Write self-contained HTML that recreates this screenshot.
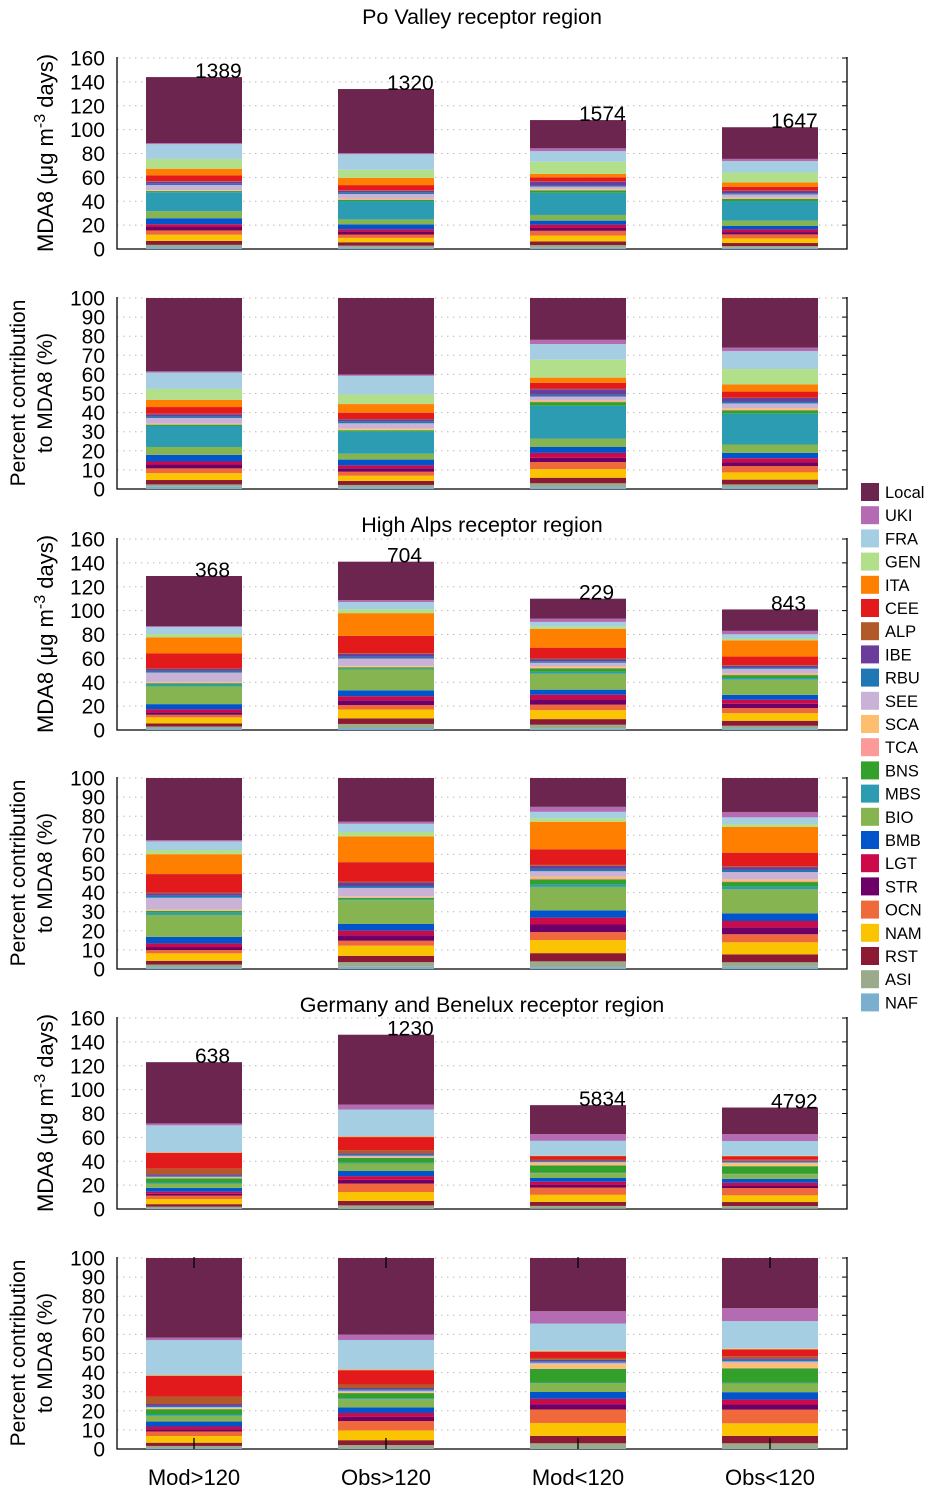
<!DOCTYPE html>
<html><head><meta charset="utf-8">
<style>
html,body{margin:0;padding:0;background:#fff;}
svg{display:block;font-family:"Liberation Sans",Arial,sans-serif;}
</style></head>
<body>
<svg id="chart" width="934" height="1494" viewBox="0 0 934 1494" xmlns="http://www.w3.org/2000/svg"></svg>
<script>
// categories bottom -> top
const cats = ["NAF","ASI","RST","NAM","OCN","STR","LGT","BMB","BIO","MBS","BNS","TCA","SCA","SEE","RBU","IBE","ALP","CEE","ITA","GEN","FRA","UKI","Local"];
const colors = ["#7aafd0","#9aaa8a","#8b1a32","#fbc400","#f0693a","#6c0066","#cc0a4a","#0055cc","#86b450","#2b9cb2","#33a02c","#fb9a99","#fdbf6f","#cab2d6","#1f78b4","#6a3d9a","#b15928","#e31a1c","#ff7f00","#b2df8a","#a6cee3","#b46bb2","#6b254e"];
const legendOrder = ["Local","UKI","FRA","GEN","ITA","CEE","ALP","IBE","RBU","SEE","SCA","TCA","BNS","MBS","BIO","BMB","LGT","STR","OCN","NAM","RST","ASI","NAF"];
const barLabels = ["Mod>120","Obs>120","Mod<120","Obs<120"];
const regionTitles = ["Po Valley receptor region","High Alps receptor region","Germany and Benelux receptor region"];
const absTicks = [0,20,40,60,80,100,120,140,160];
const pctTicks = [0,10,20,30,40,50,60,70,80,90,100];

// Bar totals (MDA8 µg m-3 days) per region
const poTotals = [144,134,108,102];
const alpsTotals = [129,141,110,101];
const gerTotals = [123,146,87,85];
// Counts printed above bars
const poCounts = [1389,1320,1574,1647];
const alpsCounts = [368,704,229,843];
const gerCounts = [638,1230,5834,4792];

// Percent contributions (bottom->top, matching cats)
const poPct = [
 [1.2,1.2,2.3,3.6,2.5,2.0,1.6,3.5,4.1,11.0,0.7,0.2,0.3,3.0,0.8,1.2,0.2,3.5,3.8,5.7,8.6,0.6,38.4],
 [1.0,1.1,2.1,2.7,2.1,1.8,1.5,3.0,3.1,11.4,0.8,0.2,0.6,2.8,1.0,1.0,0.2,3.3,4.5,5.0,9.7,0.7,39.8],
 [1.0,2.0,2.9,4.5,3.7,2.2,2.6,3.1,4.4,17.2,1.9,0.3,0.6,2.0,0.9,2.9,0.2,3.2,2.7,9.4,8.2,2.2,21.9],
 [1.0,1.4,2.5,3.8,3.3,1.9,2.2,2.8,4.4,16.1,1.7,0.3,0.8,2.6,1.0,1.9,0.2,3.1,3.7,8.1,9.4,1.8,26.0]
];
const alpsPct = [
 [1.0,1.3,2.0,3.9,1.7,1.6,1.9,3.4,11.5,1.2,0.9,0.3,0.4,6.2,1.1,1.2,0.4,9.7,10.4,2.2,4.5,0.7,32.5],
 [1.2,2.4,3.3,5.3,2.6,2.9,2.4,3.5,12.4,0.5,0.8,0.3,0.5,4.4,1.0,1.8,0.5,10.2,13.5,2.3,4.3,1.1,22.9],
 [1.0,3.0,4.3,6.8,4.2,4.0,3.6,3.8,12.3,1.3,2.6,0.5,1.0,2.8,1.2,1.6,0.5,8.2,14.4,1.9,3.3,2.6,15.1],
 [1.2,2.3,4.1,6.3,4.2,3.6,3.3,4.0,12.5,1.4,2.4,0.5,0.9,3.8,1.1,1.5,0.5,7.0,13.4,1.5,3.5,2.8,17.7]
];
const gerPct = [
 [0.5,1.1,1.7,3.5,2.4,1.2,1.4,2.6,3.0,0.7,2.8,0.2,0.4,0.5,0.6,1.0,3.9,10.8,0.3,0.1,18.4,1.3,41.8],
 [0.3,1.8,2.6,5.2,5.0,2.2,2.1,3.0,4.3,0.5,2.8,0.2,0.4,0.7,0.7,0.7,1.9,7.6,0.3,0.1,15.7,2.9,40.8],
 [0.3,2.7,3.9,6.8,7.1,2.8,2.8,3.6,4.7,0.3,7.2,0.3,2.1,0.8,0.8,0.7,1.0,3.3,0.3,0.2,14.3,6.5,28.0],
 [0.3,2.7,3.9,6.6,7.2,2.7,2.6,3.9,4.6,0.3,7.6,0.3,2.6,0.8,0.8,0.8,1.1,3.5,0.3,0.2,14.5,6.8,26.4]
];

const regions = [
 {key:"po", totals:poTotals, counts:poCounts, pct:poPct},
 {key:"alps", totals:alpsTotals, counts:alpsCounts, pct:alpsPct},
 {key:"ger", totals:gerTotals, counts:gerCounts, pct:gerPct}
];

const NS = "http://www.w3.org/2000/svg";
const svg = document.getElementById("chart");
function mk(tag, attrs, parent){
  const e = document.createElementNS(NS, tag);
  for (const k in attrs) e.setAttribute(k, attrs[k]);
  (parent||svg).appendChild(e);
  return e;
}
const plotL = 117, plotR = 847, plotH = 191;
const barW = 96;
function xCenter(i){ return 194 + 192*i; }
function yScale(v, y0, max){ return y0 - v/max*plotH; }

function drawPanel(y0, max, ticks, name){
  const g = mk("g", {});
  
  
  ticks.forEach(t=>{
    const y = yScale(t, y0, max);
    if (t>0){
      const gl = mk("line",{x1:plotL,x2:plotR,y1:y,y2:y,stroke:"#bbb","stroke-width":1,"stroke-dasharray":"1.5,4.5"},g);
      
      
      const rt = mk("line",{x1:plotR-5,x2:plotR,y1:y,y2:y,stroke:"#000","stroke-width":1},g);
      
      
    }
    const tl = mk("text",{x:105,y:y+7.5,"text-anchor":"end","font-size":21,fill:"#000"},g);
    tl.textContent = t;
    
    
  });
  const ax = mk("path",{d:`M${plotL},${y0-plotH-1} V${y0} H${plotR} V${y0-plotH-1}`,fill:"none",stroke:"#000","stroke-width":1.3},g);
  
  
  return g;
}

function drawBars(g, y0, max, vals, i){
  let cum = 0;
  vals.forEach((v,k)=>{
    const yTop = yScale(cum+v, y0, max), yBot = yScale(cum, y0, max);
    const r = mk("rect",{x:xCenter(i)-barW/2,y:yTop,width:barW,height:Math.max(0,yBot-yTop),fill:colors[k]},g);
    
    
    cum += v;
  });
  return cum;
}

const absY0 = [249,730,1209];
const pctY0 = [489,969,1449];
const titleY = [24,532,1012];

regions.forEach((reg, ri)=>{
  const t = mk("text",{x:482,y:titleY[ri],"text-anchor":"middle","font-size":21.5,fill:"#000"});
  t.textContent = regionTitles[ri];
  
  

  const ga = drawPanel(absY0[ri], 160, absTicks, reg.key+'-mda8-panel');
  reg.pct.forEach((p, i)=>{
    const s = p.reduce((a,b)=>a+b,0);
    const absVals = p.map(v=>v/s*reg.totals[i]);
    const top = drawBars(ga, absY0[ri], 160, absVals, i);
    const lbl = mk("text",{x:xCenter(i)+1,y:yScale(top,absY0[ri],160)+1,"font-size":21,fill:"#000"},ga);
    lbl.textContent = reg.counts[i];
    
    
  });
  const at = mk("text",{transform:`translate(53,${absY0[ri]-96}) rotate(-90)`,"text-anchor":"middle","font-size":22,fill:"#000"});
  at.innerHTML = 'MDA8 (μg m<tspan dy="-8" font-size="16">-3</tspan><tspan dy="8"> days)</tspan>';
  
  

  const gp = drawPanel(pctY0[ri], 100, pctTicks, reg.key+'-percent-panel');
  reg.pct.forEach((p, i)=>{
    const s = p.reduce((a,b)=>a+b,0);
    drawBars(gp, pctY0[ri], 100, p.map(v=>v/s*100), i);
  });
  const pt = mk("text",{transform:`translate(25,${pctY0[ri]-96}) rotate(-90)`,"text-anchor":"middle","font-size":21,fill:"#000"});
  pt.textContent = "Percent contribution";
  
  
  const pt2 = mk("text",{transform:`translate(52,${pctY0[ri]-96}) rotate(-90)`,"text-anchor":"middle","font-size":21,fill:"#000"});
  pt2.textContent = "to MDA8 (%)";
  
  
});

barLabels.forEach((b,i)=>{
  const x = xCenter(i);
  const t1 = mk("line",{x1:x,x2:x,y1:1257,y2:1268,stroke:"#000","stroke-width":1.3});
  
  
  const t2 = mk("line",{x1:x,x2:x,y1:1438,y2:1449,stroke:"#000","stroke-width":1.3});
  
  
  const l = mk("text",{x:x,y:1485,"text-anchor":"middle","font-size":22,fill:"#000"});
  l.textContent = b;
  
  
});

const lg = mk("g",{});


legendOrder.forEach((c,j)=>{
  const k = cats.indexOf(c);
  const y = 492 + j*23.2;
  const e = mk("g",{},lg);
  
  
  mk("rect",{x:861,y:y-9,width:18,height:18,fill:colors[k]},e);
  const t = mk("text",{x:885,y:y+6,"font-size":16.5,fill:"#000"},e);
  t.textContent = c;
});
</script>
</body></html>
